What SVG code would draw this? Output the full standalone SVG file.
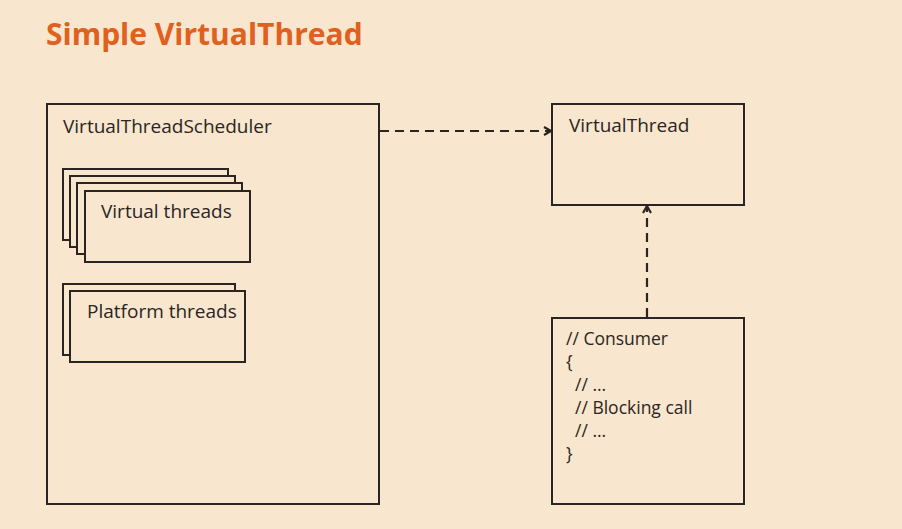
<svg xmlns="http://www.w3.org/2000/svg" width="902" height="529" viewBox="0 0 902 529">
<defs>
<style>
.bg{fill:#f9e6ce}
.box{fill:#f9e6ce;stroke:#2a2522;stroke-width:2}
.t{font-family:"Open Sans","Noto Sans",sans-serif;font-size:19px;fill:#2a2522}
.code{font-size:17.5px}
.title{font-family:"Open Sans","Noto Sans",sans-serif;font-size:30px;font-weight:bold;fill:#e0601e}
.dash{fill:none;stroke:#2a2522;stroke-width:2.2;stroke-dasharray:9 6}
</style>
<marker id="arr" viewBox="0 0 10 10" refX="9" refY="5" markerWidth="10" markerHeight="10" markerUnits="userSpaceOnUse" orient="auto">
<path d="M2,1 L9,5 L2,9" fill="none" stroke="#2a2522" stroke-width="2.2"/>
</marker>
</defs>
<rect class="bg" x="0" y="0" width="902" height="529"/>
<text class="title" x="46" y="45">Simple VirtualThread</text>
<g id="scheduler">
<rect class="box" x="47" y="104" width="332" height="400"/>
<text class="t" x="63" y="133">VirtualThreadScheduler</text>
</g>
<g id="virtual-threads">
<rect class="box" x="63" y="169" width="165" height="71"/>
<rect class="box" x="70" y="176" width="165" height="71"/>
<rect class="box" x="77" y="183" width="165" height="71"/>
<rect class="box" x="85" y="191" width="165" height="71"/>
<text class="t" x="101" y="218">Virtual threads</text>
</g>
<g id="platform-threads">
<rect class="box" x="63" y="284" width="172" height="71"/>
<rect class="box" x="70" y="291" width="175" height="71"/>
<text class="t" x="87" y="318">Platform threads</text>
</g>
<g id="virtualthread">
<rect class="box" x="552" y="104" width="192" height="101"/>
<text class="t" x="569" y="132">VirtualThread</text>
</g>
<g id="consumer">
<rect class="box" x="552" y="318" width="192" height="186"/>
<text class="t code" x="566" y="345">// Consumer</text>
<text class="t code" x="566" y="368">{</text>
<text class="t code" x="575" y="391">// ...</text>
<text class="t code" x="575" y="414">// Blocking call</text>
<text class="t code" x="575" y="437">// ...</text>
<text class="t code" x="566" y="460">}</text>
</g>
<g id="connectors">
<line class="dash" x1="380" y1="131" x2="551" y2="131" marker-end="url(#arr)"/>
<line class="dash" x1="647" y1="317" x2="647" y2="206" marker-end="url(#arr)"/>
</g>
</svg>
